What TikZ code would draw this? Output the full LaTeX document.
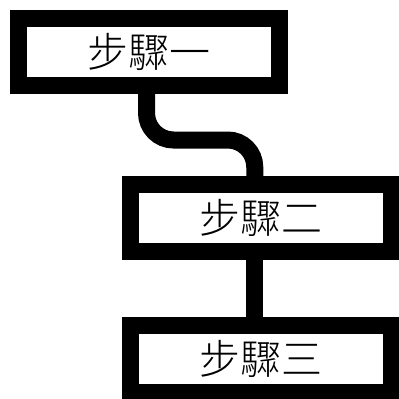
\documentclass[tikz,border=0pt]{standalone}
\usepackage{fontspec}
\newfontfamily\cjk{Noto Sans CJK TC Light}
\usetikzlibrary{positioning}

\begin{document}
\begin{tikzpicture}[x=1pt,y=1pt,
    stepbox/.style={draw, line width=17pt, fill=white, minimum width=261pt,
      minimum height=67pt, inner sep=0pt, outer sep=0pt,
      font=\cjk\fontsize{41}{41}\selectfont},
    link/.style={draw, line width=17pt, rounded corners=27pt}]
    \useasboundingbox (0,0) rectangle (399,-399);
    \node[stepbox] (one) at (148.5,-52) {步驟一};
    \node[stepbox, below=99pt of one, xshift=112.25pt] (two) {步驟二};
    \node[stepbox, below=73.5pt of two] (three) {步驟三};
    \path[link]
      ([xshift=-2pt]one.south) -- ++(0,-54.5) -| ([xshift=-6pt]two.north);
    \path[link]
      ([xshift=-6pt]two.south) -- ([xshift=-6pt]three.north);
\end{tikzpicture}
\end{document}
